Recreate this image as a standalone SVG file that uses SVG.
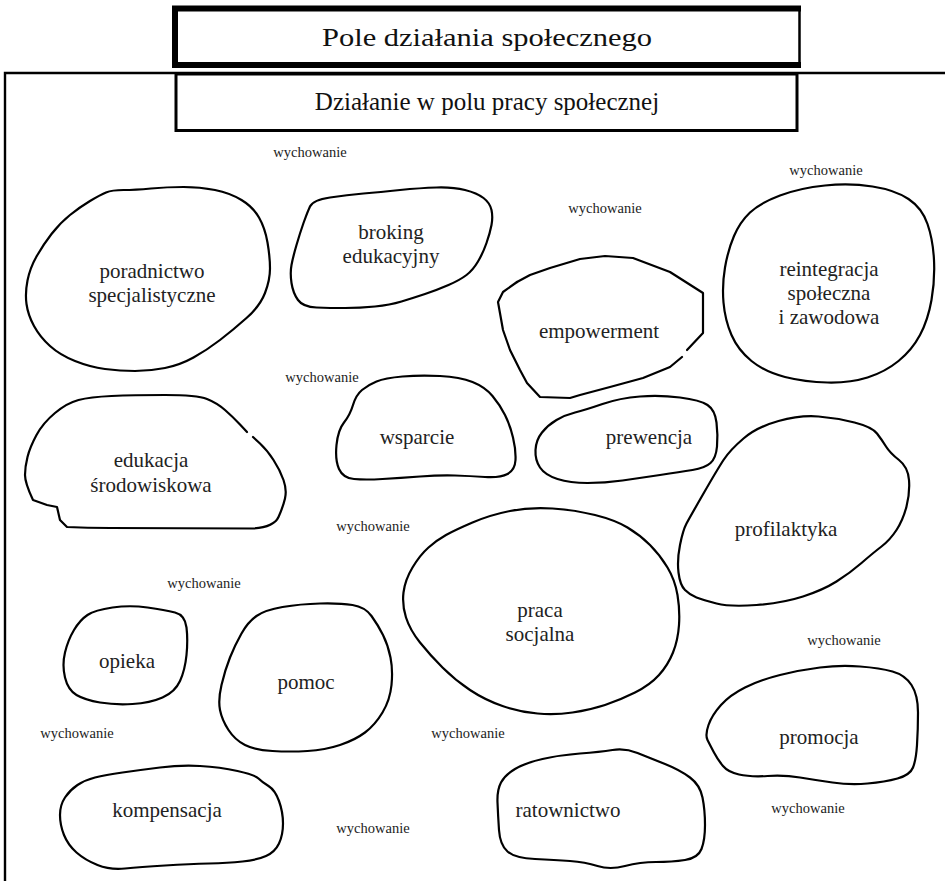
<svg xmlns="http://www.w3.org/2000/svg" width="945" height="881" viewBox="0 0 945 881">
  <style>
    .blob { fill: none; stroke: #000; stroke-width: 2.2; stroke-linejoin: round; stroke-linecap: round; }
    .lbl { font-family: "Liberation Serif", "Times New Roman", serif; font-size: 21px; fill: #222; text-anchor: middle; }
    .note { font-family: "Liberation Serif", "Times New Roman", serif; font-size: 14.5px; fill: #222; text-anchor: middle; }
    .title { font-family: "Liberation Serif", "Times New Roman", serif; font-size: 25px; fill: #111; text-anchor: middle; }
  </style>
  <rect width="945" height="881" fill="#fff"/>

  <!-- outer field: top edge and left edge only -->
  <g id="field">
    <path d="M5,881 V73 H945" fill="none" stroke="#000" stroke-width="2.4"/>
  </g>

  <!-- heading boxes -->
  <g id="title-outer">
    <path d="M801,8.5 H175 V65 H801" fill="none" stroke="#000" stroke-width="6"/>
    <path d="M799.5,6 V67.5" fill="none" stroke="#000" stroke-width="2.5"/>
    <text class="title" x="487" y="46" font-size="26" textLength="330" lengthAdjust="spacingAndGlyphs">Pole działania społecznego</text>
  </g>
  <g id="title-inner">
    <rect x="176" y="74" width="621" height="56.5" fill="#fff" stroke="#000" stroke-width="3"/>
    <text class="title" x="487" y="110">Działanie w polu pracy społecznej</text>
  </g>

  <!-- areas of action -->
  <g id="poradnictwo">
    <path class="blob" d="M106,192.5 Q112,190 123.5,190 Q135,190 151,188.5 Q167,187 183.5,187 Q200,187 215,190 Q230,193 241.5,200 Q253,207 259,217.5 Q265,228 267.5,242.5 Q270,257 270,268.5 Q270,280 265,293 Q260,306 246.5,318 Q233,330 220,340 Q207,350 193.5,357.5 Q180,365 165,368 Q150,371 135,371 Q120,371 105,369 Q90,367 75,361 Q60,355 50,346 Q40,337 34,326 Q28,315 26.5,304 Q25,293 27.5,280.5 Q30,268 36.5,256.5 Q43,245 51.5,234 Q60,223 70,215 Q80,207 90,201 Q100,195 106,192.5 Z"/>
    <text class="lbl" x="152" y="278">poradnictwo</text>
    <text class="lbl" x="152" y="302">specjalistyczne</text>
  </g>

  <g id="broking">
    <path class="blob" d="M330,197.5 Q347,195 363.5,193.5 Q380,192 400,190 Q420,188 436.5,187.5 Q453,187 465,190 Q477,193 483.5,198 Q490,203 491.5,210 Q493,217 491.5,225 Q490,233 486.5,243 Q483,253 478,261.5 Q473,270 466.5,275 Q460,280 448.5,285 Q437,290 425,294 Q413,298 401.5,301.5 Q390,305 375,306.5 Q360,308 345,308 Q330,308 316.5,307.5 Q303,307 298,300 Q293,293 291.5,283 Q290,273 291.5,265 Q293,257 296.5,245 Q300,233 303.5,223 Q307,213 310,206.5 Q313,200 330,197.5 Z"/>
    <text class="lbl" x="391" y="239">broking</text>
    <text class="lbl" x="391" y="263">edukacyjny</text>
  </g>

  <g id="empowerment">
    <path class="blob" d="M517,282 L530,275 L550,268 L580,259 L605,256 L633,258 L670,272 L703,293 L703,333 L687,350"/>
    <path class="blob" d="M682,357 L670,367 L643,378 L610,387 L580,395 L570,398 L540,397 L527,383 L520,370 L510,350 L503,330 L498,302 L503,292 L517,282"/>
    <text class="lbl" x="599" y="338">empowerment</text>
  </g>

  <g id="reintegracja">
    <path class="blob" d="M780,195.5 Q800,188 825,185.5 Q850,183 872.5,186.5 Q895,190 908.5,199 Q922,208 927.5,224 Q933,240 934,260 Q935,280 931.5,300 Q928,320 920,335 Q912,350 898.5,361 Q885,372 867.5,377.5 Q850,383 827.5,382.5 Q805,382 785,377 Q765,372 751.5,361 Q738,350 731.5,335 Q725,320 723.5,302.5 Q722,285 725,267.5 Q728,250 734,236 Q740,222 750,212.5 Q760,203 780,195.5 Z"/>
    <text class="lbl" x="829" y="276">reintegracja</text>
    <text class="lbl" x="829" y="300">społeczna</text>
    <text class="lbl" x="829" y="324">i zawodowa</text>
  </g>

  <g id="edukacja">
    <path class="blob" d="M253,437 L260,443.5 Q267,450 273.5,460 Q280,470 283.5,480 Q287,490 285,498.5 Q283,507 278.5,517 Q274,527 253.5,528.5 L110,528 Q87,528 67,527 L60,520 L57,507 L47,505 L33,500 Q25,483 25,475 Q25,467 27.5,457 Q30,447 36.5,435 Q43,423 55,413 Q67,403 78.5,400 Q90,397 111.5,396 Q133,395 165,395 Q197,395 207,399 Q217,403 225,410 Q233,417 240,424.5 L247,432"/>
    <text class="lbl" x="151" y="467">edukacja</text>
    <text class="lbl" x="151" y="492">środowiskowa</text>
  </g>

  <g id="wsparcie">
    <path class="blob" d="M362,390 Q368,385 376.5,381.5 Q385,378 402.5,376.5 Q420,375 440,376 Q460,377 472.5,382 Q485,387 492.5,396 Q500,405 505,415 Q510,425 513,437.5 Q516,450 515.5,460 Q515,470 507.5,474 Q500,478 485,477 Q470,476 455,475.5 Q440,475 420,476.5 Q400,478 382.5,479 Q365,480 354,479 Q343,478 339,469 Q335,460 336.5,445 Q338,430 344,422.5 Q350,415 353,405 Q356,395 362,390 Z"/>
    <text class="lbl" x="417" y="444">wsparcie</text>
  </g>

  <g id="prewencja">
    <path class="blob" d="M602.5,404 Q620,398 640,396.5 Q660,395 680,397.5 Q700,400 707.5,405 Q715,410 716.5,422.5 Q718,435 717,446.5 Q716,458 710.5,463 Q705,468 692.5,470 Q680,472 660,475 Q640,478 622.5,480.5 Q605,483 587.5,483 Q570,483 557.5,479 Q545,475 540,467.5 Q535,460 535.5,450 Q536,440 542,432.5 Q548,425 556.5,420 Q565,415 575,412.5 Q585,410 602.5,404 Z"/>
    <text class="lbl" x="649" y="444">prewencja</text>
  </g>

  <g id="profilaktyka">
    <path class="blob" d="M778.5,421 Q800,415 818.5,416.5 Q837,418 854.5,422.5 Q872,427 877,433.5 Q882,440 886,446.5 Q890,453 899,460 Q908,467 909,480 Q910,493 906.5,506.5 Q903,520 896.5,530 Q890,540 881.5,546.5 Q873,553 861.5,563 Q850,573 836.5,581.5 Q823,590 803,596.5 Q783,603 756.5,605 Q730,607 716.5,603.5 Q703,600 696.5,597.5 Q690,595 685,590 Q680,585 678.5,572.5 Q677,560 680,545 Q683,530 686.5,523.5 Q690,517 703.5,493.5 Q717,470 723.5,460 Q730,450 743.5,438.5 Q757,427 778.5,421 Z"/>
    <text class="lbl" x="786" y="536">profilaktyka</text>
  </g>

  <g id="praca-socjalna">
    <path class="blob" d="M472.5,522.5 Q490,515 510,511 Q530,507 552.5,508.5 Q575,510 595,515 Q615,520 627.5,527.5 Q640,535 650,545 Q660,555 667.5,567.5 Q675,580 677.5,595 Q680,610 679,625 Q678,640 673,652.5 Q668,665 659,675 Q650,685 635,692.5 Q620,700 605,705 Q590,710 572.5,712.5 Q555,715 537.5,713.5 Q520,712 502.5,706 Q485,700 470,690 Q455,680 442.5,667.5 Q430,655 420,642.5 Q410,630 406,617.5 Q402,605 403.5,592.5 Q405,580 412.5,567.5 Q420,555 428.5,547.5 Q437,540 446,535 Q455,530 472.5,522.5 Z"/>
    <text class="lbl" x="540" y="617">praca</text>
    <text class="lbl" x="540" y="641">socjalna</text>
  </g>

  <g id="opieka">
    <path class="blob" d="M112.5,607.5 Q130,605 147.5,607.5 Q165,610 175,612.5 Q185,615 186.5,627.5 Q188,640 186.5,655 Q185,670 180,681 Q175,692 162.5,697.5 Q150,703 132.5,704 Q115,705 100,702.5 Q85,700 76.5,695 Q68,690 65,677.5 Q62,665 65,652.5 Q68,640 74,630 Q80,620 87.5,615 Q95,610 112.5,607.5 Z"/>
    <text class="lbl" x="127" y="668">opieka</text>
  </g>

  <g id="pomoc">
    <path class="blob" d="M282.5,607 Q300,604 320,603.5 Q340,603 352.5,605 Q365,607 371.5,616 Q378,625 383,635 Q388,645 390.5,657.5 Q393,670 391.5,685 Q390,700 382.5,712.5 Q375,725 365,732.5 Q355,740 340,745 Q325,750 307.5,751 Q290,752 272.5,751 Q255,750 245,745 Q235,740 228.5,730 Q222,720 220,710 Q218,700 221.5,685 Q225,670 230,657.5 Q235,645 241.5,633.5 Q248,622 256.5,616 Q265,610 282.5,607 Z"/>
    <text class="lbl" x="306" y="689">pomoc</text>
  </g>

  <g id="promocja">
    <path class="blob" d="M780,675 Q800,670 820,667.5 Q840,665 860,666.5 Q880,668 892.5,671.5 Q905,675 911.5,685 Q918,695 918,712.5 Q918,730 917,745 Q916,760 913,767.5 Q910,775 897.5,778.5 Q885,782 867.5,783.5 Q850,785 832.5,782.5 Q815,780 800,777.5 Q785,775 767.5,776 Q750,777 739,774.5 Q728,772 723,766 Q718,760 714,752.5 Q710,745 707.5,740 Q705,735 708.5,725 Q712,715 721,705 Q730,695 745,687.5 Q760,680 780,675 Z"/>
    <text class="lbl" x="819" y="744">promocja</text>
  </g>

  <g id="kompensacja">
    <path class="blob" d="M122.5,772.5 Q140,770 160,767.5 Q180,765 200,766 Q220,767 237.5,771 Q255,775 258.5,778.5 Q262,782 268.5,786 Q275,790 279,801 Q283,812 283,823.5 Q283,835 279,843.5 Q275,852 266,856 Q257,860 242.5,861.5 Q228,863 209,863.5 Q190,864 165,865.5 Q140,867 125,868.5 Q110,870 97.5,865 Q85,860 76.5,852.5 Q68,845 64,835 Q60,825 60,815 Q60,805 65,797.5 Q70,790 77.5,785 Q85,780 95,777.5 Q105,775 122.5,772.5 Z"/>
    <text class="lbl" x="167" y="817">kompensacja</text>
  </g>

  <g id="ratownictwo">
    <path class="blob" d="M580,753.5 Q600,752 612.5,750 Q625,748 637.5,753 Q650,758 665,764 Q680,770 690,777.5 Q700,785 702.5,797.5 Q705,810 705,825 Q705,840 701.5,849 Q698,858 685,860 Q672,862 656,862 Q640,862 625,866 Q610,870 597.5,866 Q585,862 570,861 Q555,860 535,859 Q515,858 507.5,851.5 Q500,845 499,830 Q498,815 497.5,802.5 Q497,790 501,782.5 Q505,775 515,769 Q525,763 542.5,759 Q560,755 580,753.5 Z"/>
    <text class="lbl" x="568" y="817">ratownictwo</text>
  </g>

  <!-- scattered "wychowanie" notes -->
  <g id="notes">
    <text class="note" x="310" y="157">wychowanie</text>
    <text class="note" x="826" y="175">wychowanie</text>
    <text class="note" x="605" y="213">wychowanie</text>
    <text class="note" x="322" y="382">wychowanie</text>
    <text class="note" x="373" y="531">wychowanie</text>
    <text class="note" x="204" y="588">wychowanie</text>
    <text class="note" x="844" y="645">wychowanie</text>
    <text class="note" x="77" y="738">wychowanie</text>
    <text class="note" x="468" y="738">wychowanie</text>
    <text class="note" x="808" y="813">wychowanie</text>
    <text class="note" x="373" y="833">wychowanie</text>
  </g>
</svg>
